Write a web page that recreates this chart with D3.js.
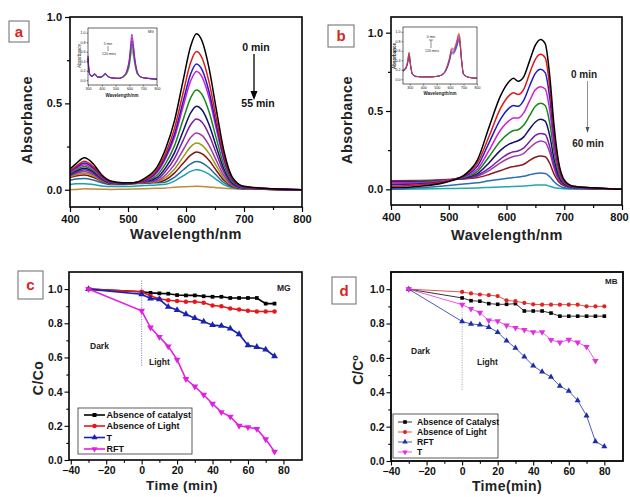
<!DOCTYPE html>
<html><head><meta charset="utf-8">
<script src="https://cdn.jsdelivr.net/npm/d3@7"></script>
<style>
html,body{margin:0;padding:0;background:#fff;}
svg{display:block;font-family:Arial,"Liberation Sans",sans-serif;}
</style></head><body>
<svg id="fig" width="630" height="497"></svg>
<script>
// ---------- Panel a: malachite green spectra, 0 to 55 min ----------
const wavelengthA = [400,410,425,440,455,470,490,510,530,550,565,580,595,608,618,628,640,652,665,680,700,750,800];
const absorbanceA = [
  [.12,.15,.185,.15,.085,.05,.04,.04,.068,.131,.239,.397,.632,.831,.903,.858,.70,.47,.23,.072,.02,.005,0],
  [.11,.135,.165,.135,.08,.048,.04,.04,.06,.116,.212,.352,.56,.736,.80,.76,.62,.416,.204,.064,.018,.005,0],
  [.105,.128,.155,.128,.076,.046,.038,.04,.055,.106,.193,.32,.51,.67,.728,.692,.564,.379,.186,.058,.016,.004,0],
  [.10,.122,.145,.12,.072,.044,.037,.04,.052,.099,.182,.301,.48,.63,.685,.651,.531,.356,.175,.055,.015,.004,0],
  [.095,.115,.135,.112,.068,.042,.036,.04,.05,.084,.153,.254,.405,.532,.578,.549,.448,.30,.147,.046,.013,.003,0],
  [.09,.108,.125,.104,.064,.04,.035,.04,.048,.07,.128,.213,.339,.445,.484,.46,.375,.252,.123,.039,.011,.003,0],
  [.085,.10,.115,.096,.06,.038,.034,.04,.046,.06,.108,.18,.286,.376,.409,.389,.317,.213,.104,.033,.01,.003,0],
  [.08,.094,.105,.088,.056,.036,.033,.04,.044,.052,.087,.145,.23,.303,.329,.313,.255,.171,.084,.027,.008,.002,0],
  [.075,.087,.095,.08,.052,.034,.032,.038,.042,.048,.072,.119,.189,.248,.27,.257,.209,.14,.069,.024,.007,.002,0],
  [.07,.08,.085,.072,.048,.032,.031,.036,.04,.044,.058,.096,.153,.20,.218,.207,.169,.113,.056,.02,.006,.002,0],
  [.055,.062,.065,.056,.04,.03,.03,.034,.038,.04,.045,.072,.114,.15,.163,.155,.126,.085,.042,.016,.005,.002,0],
  [.03,.034,.035,.03,.022,.018,.018,.02,.024,.028,.032,.05,.08,.106,.115,.109,.089,.06,.03,.012,.004,.002,0],
  [0,.002,.005,.004,.003,.002,.003,.004,.006,.008,.01,.014,.017,.019,.02,.019,.016,.012,.008,.005,.003,.002,0]
];
const colorsA = ["#000000","#e01818","#1c1cc8","#d21ed2","#138a13","#10106e","#7a1ea8","#a03ca8","#9a9a10","#8a1010","#1f6f9a","#1ea0a8","#c08a3c"];

// inset of panel a: full-range MG spectra
const wavelengthInsetA = [300,305,315,330,345,355,370,390,410,425,440,470,520,560,585,600,610,617,625,640,660,690,730,800];
const absorbanceInsetA = [
  [.52,.30,.12,.09,.14,.13,.07,.07,.10,.15,.10,.05,.04,.10,.25,.48,.78,.97,.86,.46,.16,.06,.04,.02],
  [.50,.28,.12,.09,.13,.12,.07,.07,.10,.14,.10,.05,.04,.09,.23,.44,.72,.90,.80,.43,.15,.06,.04,.02],
  [.48,.27,.11,.08,.13,.12,.07,.07,.09,.14,.09,.05,.04,.09,.21,.40,.66,.83,.74,.40,.14,.06,.04,.02],
  [.46,.26,.11,.08,.12,.11,.06,.06,.09,.13,.09,.05,.04,.08,.19,.37,.60,.76,.68,.37,.13,.06,.04,.02],
  [.45,.25,.10,.08,.12,.11,.06,.06,.09,.13,.09,.05,.04,.08,.17,.33,.55,.69,.62,.34,.12,.06,.04,.03],
  [.44,.24,.10,.08,.11,.10,.06,.06,.08,.12,.08,.05,.04,.07,.16,.30,.50,.63,.56,.31,.11,.06,.05,.03]
];
const colorsInsetA = ["#8a1a9a","#d21ed2","#1c1cc8","#138a13","#9a9a10","#2a9aa8"];

// ---------- Panel b: methylene blue spectra, 0 to 60 min ----------
const wavelengthB = [400,450,500,530,550,570,590,605,612,620,630,640,650,659,667,675,682,690,700,715,750,800];
const absorbanceB = [
  [.01,.02,.05,.10,.19,.40,.60,.69,.709,.69,.72,.82,.92,.957,.93,.72,.42,.18,.06,.02,.01,0],
  [.02,.03,.055,.095,.17,.34,.52,.60,.617,.605,.64,.74,.83,.862,.84,.65,.38,.16,.055,.02,.01,0],
  [.03,.035,.055,.09,.15,.30,.45,.52,.535,.53,.57,.66,.74,.766,.745,.58,.34,.15,.05,.018,.008,0],
  [.04,.04,.06,.085,.13,.25,.38,.44,.455,.455,.49,.565,.635,.655,.64,.50,.29,.13,.045,.016,.007,0],
  [.04,.045,.06,.08,.115,.21,.31,.36,.375,.38,.41,.47,.53,.549,.535,.42,.25,.11,.04,.015,.006,0],
  [.045,.048,.06,.075,.10,.17,.25,.29,.30,.31,.335,.385,.43,.447,.435,.34,.20,.09,.035,.013,.005,0],
  [.048,.05,.06,.07,.09,.135,.195,.23,.24,.245,.265,.305,.345,.357,.35,.27,.16,.075,.03,.012,.005,0],
  [.05,.052,.062,.07,.085,.12,.17,.20,.21,.215,.23,.265,.295,.309,.30,.235,.14,.065,.028,.01,.004,0],
  [.055,.056,.062,.068,.075,.095,.12,.14,.145,.15,.16,.185,.205,.213,.208,.165,.10,.05,.022,.01,.004,0],
  [0,.01,.025,.035,.042,.055,.065,.072,.075,.078,.083,.093,.101,.104,.101,.08,.05,.025,.01,.005,.002,0],
  [0,.002,.005,.007,.009,.012,.015,.017,.018,.019,.021,.024,.027,.028,.027,.02,.012,.007,.004,.002,.001,0]
];
const colorsB = ["#000000","#e01818","#1c1cc8","#d21ed2","#138a13","#10106e","#7a1ea8","#a03ca8","#8a1a1a","#2a6eb0","#22a8a8"];

// inset of panel b: full-range MB spectra
const wavelengthInsetB = [250,270,285,295,305,320,350,400,450,500,540,570,595,612,625,640,655,664,672,685,700,740,800];
const absorbanceInsetB = [
  [.20,.25,.40,.57,.35,.12,.06,.05,.05,.06,.10,.22,.45,.66,.64,.72,.88,.97,.90,.45,.12,.04,.02],
  [.19,.24,.38,.55,.33,.11,.06,.05,.05,.06,.10,.21,.43,.63,.61,.69,.84,.93,.86,.43,.11,.04,.02],
  [.18,.23,.36,.53,.32,.11,.06,.05,.05,.06,.09,.20,.41,.60,.58,.66,.80,.89,.82,.41,.11,.04,.02],
  [.18,.22,.35,.51,.31,.10,.06,.05,.05,.06,.09,.19,.39,.57,.56,.63,.76,.85,.79,.40,.10,.04,.02],
  [.17,.22,.34,.49,.30,.10,.05,.05,.05,.06,.09,.18,.37,.54,.53,.60,.73,.81,.75,.38,.10,.04,.02]
];
const colorsInsetB = ["#c05a20","#8a1a9a","#d21ed2","#1c1cc8","#2a6eb0"];

// ---------- Panel c: MG degradation ----------
const timeC = [-30,0,5,10,15,20,25,30,35,40,45,50,55,60,65,70,75];
const mgNoCatalyst = [1.0,0.984,0.978,0.975,0.973,0.965,0.963,0.963,0.958,0.955,0.955,0.948,0.948,0.948,0.948,0.915,0.915];
const mgNoLight = [1.0,0.984,0.96,0.943,0.935,0.93,0.926,0.926,0.92,0.904,0.90,0.886,0.88,0.873,0.869,0.869,0.869];
const mgT = [1.0,0.97,0.945,0.94,0.896,0.877,0.853,0.83,0.81,0.789,0.785,0.769,0.736,0.671,0.661,0.646,0.607];
const mgRFT = [1.0,0.873,0.775,0.72,0.665,0.587,0.474,0.43,0.382,0.329,0.28,0.254,0.20,0.192,0.182,0.121,0.049];
const legendC = ["Absence of catalyst","Absence of Light","T","RFT"];

// ---------- Panel d: MB degradation ----------
const timeD = [-30,0,5,10,15,20,25,30,35,40,45,50,55,60,65,70,75,80];
const mbNoCatalyst = [1.0,0.949,0.933,0.93,0.916,0.912,0.912,0.916,0.873,0.873,0.873,0.861,0.843,0.843,0.843,0.843,0.843,0.843];
const mbNoLight = [1.0,0.984,0.975,0.969,0.965,0.96,0.935,0.93,0.92,0.912,0.91,0.91,0.91,0.91,0.91,0.9,0.9,0.9];
const mbRFT = [1.0,0.812,0.798,0.793,0.779,0.75,0.70,0.658,0.607,0.554,0.519,0.489,0.436,0.407,0.352,0.264,0.114,0.084];
const mbT = [1.0,0.91,0.886,0.863,0.818,0.814,0.789,0.775,0.763,0.75,0.75,0.705,0.69,0.706,0.69,0.665,0.583];
const legendD = ["Absence of Catalyst","Absence of Light","RFT","T"];

const svg = d3.select("#fig");
const fmt1 = d3.format(".1f");

function axes(g, x, y, o) {
  const b = y.range()[0], t = y.range()[1], l = x.range()[0], r = x.range()[1];
  const ax = g.append("g").attr("transform", `translate(0,${b})`)
    .call(d3.axisBottom(x).tickValues(o.xMajor).tickSize(o.tick).tickPadding(o.pad).tickFormat(o.xFmt || d3.format("d")));
  g.append("g").attr("transform", `translate(0,${b})`)
    .call(d3.axisBottom(x).tickValues(o.xMinor).tickSize(o.tick * 0.6).tickFormat(""));
  const ay = g.append("g").attr("transform", `translate(${l},0)`)
    .call(d3.axisLeft(y).tickValues(o.yMajor).tickSize(o.tick).tickPadding(o.pad).tickFormat(fmt1));
  g.append("g").attr("transform", `translate(${l},0)`)
    .call(d3.axisLeft(y).tickValues(o.yMinor).tickSize(o.tick * 0.6).tickFormat(""));
  g.selectAll(".domain").remove();
  g.selectAll(".tick line").attr("stroke", "#000").attr("stroke-width", o.tickW);
  [ax, ay].forEach(a => a.selectAll("text").attr("font-size", o.fs).attr("font-weight", o.fw)
    .attr("fill", "#111").attr("font-family", "Arial, 'Liberation Sans', sans-serif"));
  // keep the last x label inside the page edge
  if (o.lastShift) ax.selectAll(".tick:last-of-type text").attr("dx", -o.lastShift);
  g.append("rect").attr("x", l).attr("y", t).attr("width", r - l).attr("height", b - t)
    .attr("fill", "none").attr("stroke", "#000").attr("stroke-width", o.frameW);
}

function tag(x, y, w, h, letter) {
  svg.append("rect").attr("x", x).attr("y", y).attr("width", w).attr("height", h)
    .attr("fill", "#fff").attr("stroke", "#6a6a6a").attr("stroke-width", 1);
  svg.append("text").attr("x", x + w / 2).attr("y", y + h / 2 + 5).attr("text-anchor", "middle")
    .attr("font-size", 15).attr("font-weight", "bold").attr("fill", "#d8261e").text(letter);
}

function title(x, y, txt, fs, rot) {
  svg.append("text").attr("transform", `translate(${x},${y})` + (rot ? " rotate(-90)" : ""))
    .attr("text-anchor", "middle").attr("font-size", fs).attr("font-weight", "bold")
    .attr("fill", "#222").attr("letter-spacing", 0.4).text(txt);
}

function spectra(g, x, y, wl, rows, colors, w) {
  const line = d3.line().x((d, i) => x(wl[i])).y(d => y(d)).curve(d3.curveMonotoneX);
  const order = rows.map((r, i) => i).reverse();
  g.selectAll(null).data(order).join("path")
    .attr("d", i => line(rows[i])).attr("fill", "none")
    .attr("stroke", i => colors[i]).attr("stroke-width", w);
}

// ===== Panel a =====
{
  const x = d3.scaleLinear().domain([400, 800]).range([70, 302]);
  const y = d3.scaleLinear().domain([-0.1, 1.0]).range([207, 17]);
  const g = svg.append("g");
  g.append("clipPath").attr("id", "clipA").append("rect")
    .attr("x", 70).attr("y", 17).attr("width", 232).attr("height", 190);
  spectra(g.append("g").attr("clip-path", "url(#clipA)"), x, y, wavelengthA, absorbanceA, colorsA, 1.5);
  axes(g, x, y, {xMajor: [400,500,600,700,800], xMinor: [450,550,650,750], yMajor: [0,0.5,1.0], yMinor: [0.25,0.75],
    tick: 5, pad: 3, fs: 11, fw: "bold", tickW: 1.2, frameW: 1.6});
  // time arrow
  svg.append("text").attr("x", 256).attr("y", 51).attr("text-anchor", "middle").attr("font-size", 10.5)
    .attr("font-weight", "bold").attr("fill", "#111").text("0 min");
  svg.append("line").attr("x1", 254).attr("x2", 254).attr("y1", 54).attr("y2", 93).attr("stroke", "#000").attr("stroke-width", 1.3);
  svg.append("path").attr("d", "M250.5,91 L257.5,91 L254,100 Z").attr("fill", "#000");
  svg.append("text").attr("x", 258).attr("y", 107).attr("text-anchor", "middle").attr("font-size", 10.5)
    .attr("font-weight", "bold").attr("fill", "#111").text("55 min");

  // inset
  const xi = d3.scaleLinear().domain([300, 800]).range([88, 157]);
  const yi = d3.scaleLinear().domain([-0.1, 1.1]).range([85, 28]);
  const gi = svg.append("g");
  gi.append("rect").attr("x", 88).attr("y", 28).attr("width", 69).attr("height", 57).attr("fill", "#fff");
  spectra(gi, xi, yi, wavelengthInsetA, absorbanceInsetA, colorsInsetA, 0.8);
  axes(gi, xi, yi, {xMajor: [300,400,500,600,700,800], xMinor: [], yMajor: [0,0.2,0.4,0.6,0.8,1.0], yMinor: [],
    tick: 1.5, pad: 1, fs: 3.6, fw: "normal", tickW: 0.5, frameW: 0.6});
  gi.append("text").attr("transform", "translate(81,56) rotate(-90)").attr("text-anchor", "middle")
    .attr("font-size", 4.5).attr("font-style", "italic").attr("fill", "#222").text("Absorbance");
  gi.append("text").attr("x", 122).attr("y", 97).attr("text-anchor", "middle").attr("font-size", 4.5)
    .attr("font-weight", "bold").attr("fill", "#222").text("Wavelength/nm");
  gi.append("text").attr("x", 108).attr("y", 45).attr("text-anchor", "middle").attr("font-size", 3.4).attr("fill", "#222").text("5 min");
  gi.append("line").attr("x1", 108).attr("x2", 108).attr("y1", 46).attr("y2", 51).attr("stroke", "#222").attr("stroke-width", 0.5);
  gi.append("text").attr("x", 109).attr("y", 55).attr("text-anchor", "middle").attr("font-size", 3.4).attr("fill", "#222").text("120 mins");
  gi.append("text").attr("x", 151).attr("y", 33).attr("text-anchor", "middle").attr("font-size", 3.6).attr("fill", "#222").text("MG");

  title(32, 120, "Absorbance", 14.5, true);
  title(186, 239, "Wavelength/nm", 14.5, false);
  tag(9, 21, 20, 21, "a");
}

// ===== Panel b =====
{
  const x = d3.scaleLinear().domain([400, 800]).range([391, 622]);
  const y = d3.scaleLinear().domain([-0.1, 1.1]).range([205, 17]);
  const g = svg.append("g");
  g.append("clipPath").attr("id", "clipB").append("rect")
    .attr("x", 391).attr("y", 17).attr("width", 231).attr("height", 188);
  spectra(g.append("g").attr("clip-path", "url(#clipB)"), x, y, wavelengthB, absorbanceB, colorsB, 1.5);
  axes(g, x, y, {xMajor: [400,500,600,700,800], xMinor: [450,550,650,750], yMajor: [0,0.5,1.0], yMinor: [0.25,0.75],
    tick: 5, pad: 3, fs: 11, fw: "bold", tickW: 1.2, frameW: 1.6, lastShift: 3});
  svg.append("text").attr("x", 584).attr("y", 78).attr("text-anchor", "middle").attr("font-size", 10)
    .attr("font-weight", "bold").attr("fill", "#222").text("0 min");
  svg.append("line").attr("x1", 587.5).attr("x2", 587.5).attr("y1", 81).attr("y2", 129).attr("stroke", "#777").attr("stroke-width", 0.8);
  svg.append("path").attr("d", "M585.5,127 L589.5,127 L587.5,133 Z").attr("fill", "#555");
  svg.append("text").attr("x", 588).attr("y", 147).attr("text-anchor", "middle").attr("font-size", 10)
    .attr("font-weight", "bold").attr("fill", "#222").text("60 min");

  // inset
  const xi = d3.scaleLinear().domain([250, 800]).range([403, 477]);
  const yi = d3.scaleLinear().domain([-0.1, 1.1]).range([84, 27]);
  const gi = svg.append("g");
  gi.append("rect").attr("x", 403).attr("y", 27).attr("width", 74).attr("height", 57).attr("fill", "#fff");
  spectra(gi, xi, yi, wavelengthInsetB, absorbanceInsetB, colorsInsetB, 0.8);
  axes(gi, xi, yi, {xMajor: [300,400,500,600,700,800], xMinor: [], yMajor: [0,0.2,0.4,0.6,0.8,1.0], yMinor: [],
    tick: 1.5, pad: 1, fs: 3.6, fw: "normal", tickW: 0.5, frameW: 0.6});
  gi.append("text").attr("transform", "translate(396,56) rotate(-90)").attr("text-anchor", "middle")
    .attr("font-size", 4.5).attr("font-weight", "bold").attr("fill", "#222").text("Absorbance");
  gi.append("text").attr("x", 440).attr("y", 95).attr("text-anchor", "middle").attr("font-size", 4.5)
    .attr("font-weight", "bold").attr("fill", "#222").text("Wavelength/nm");
  gi.append("text").attr("x", 431).attr("y", 38).attr("text-anchor", "middle").attr("font-size", 3.4).attr("fill", "#222").text("0 min");
  gi.append("line").attr("x1", 431).attr("x2", 431).attr("y1", 40).attr("y2", 48).attr("stroke", "#222").attr("stroke-width", 0.5);
  gi.append("line").attr("x1", 429).attr("x2", 433).attr("y1", 40).attr("y2", 40).attr("stroke", "#222").attr("stroke-width", 0.5);
  gi.append("text").attr("x", 432).attr("y", 52).attr("text-anchor", "middle").attr("font-size", 3.4).attr("fill", "#222").text("120 mins");

  title(352, 120, "Absorbance", 14.5, true);
  title(507, 240, "Wavelength/nm", 14.5, false);
  tag(328, 25, 26, 22, "b");
}

// marker shapes
const shapes = {
  square: d3.symbol().type(d3.symbolSquare),
  circle: d3.symbol().type(d3.symbolCircle),
  up: d3.symbol().type(d3.symbolTriangle),
  down: d3.symbol().type(d3.symbolTriangle)
};

function series(g, x, y, xs, ys, color, shape, size, lw) {
  const line = d3.line().x((d, i) => x(xs[i])).y(d => y(d));
  g.append("path").attr("d", line(ys)).attr("fill", "none").attr("stroke", color).attr("stroke-width", lw);
  g.selectAll(null).data(ys).join("path")
    .attr("d", shapes[shape].size(size)())
    .attr("transform", (d, i) => `translate(${x(xs[i])},${y(d)})` + (shape === "down" ? " rotate(180)" : ""))
    .attr("fill", color);
}

function legend(g, x0, y0, w, h, names, colors, shapesL, rows, fs, fw, lx1, lx2, tx, size, lw) {
  g.append("rect").attr("x", x0).attr("y", y0).attr("width", w).attr("height", h)
    .attr("fill", "#fff").attr("stroke", "#333").attr("stroke-width", 0.8);
  names.forEach((n, i) => {
    const yy = rows[i];
    g.append("line").attr("x1", lx1).attr("x2", lx2).attr("y1", yy).attr("y2", yy)
      .attr("stroke", colors[i]).attr("stroke-width", lw);
    g.append("path").attr("d", shapes[shapesL[i]].size(size)())
      .attr("transform", `translate(${(lx1 + lx2) / 2},${yy})` + (shapesL[i] === "down" ? " rotate(180)" : ""))
      .attr("fill", colors[i]);
    g.append("text").attr("x", tx).attr("y", yy + fs * 0.36).attr("font-size", fs).attr("font-weight", fw)
      .attr("fill", "#111").text(n);
  });
}

// ===== Panel c =====
{
  const x = d3.scaleLinear().domain([-41, 90.5]).range([69, 302]);
  const y = d3.scaleLinear().domain([0, 1.1]).range([460, 272]);
  const g = svg.append("g");
  g.append("line").attr("x1", x(0)).attr("x2", x(0)).attr("y1", y(1.05)).attr("y2", y(0.55))
    .attr("stroke", "#6a7ab8").attr("stroke-width", 0.8).attr("stroke-dasharray", "1.2,1.2");
  const cols = ["#000000", "#e8161c", "#1a22b0", "#e020e0"];
  series(g, x, y, timeC, mgNoCatalyst, cols[0], "square", 14, 1.6);
  series(g, x, y, timeC, mgNoLight, cols[1], "circle", 16, 1.6);
  series(g, x, y, timeC, mgT, cols[2], "up", 20, 1.6);
  series(g, x, y, timeC, mgRFT, cols[3], "down", 20, 1.6);
  axes(g, x, y, {xMajor: [-40,-20,0,20,40,60,80], xMinor: [-30,-10,10,30,50,70], yMajor: [0,0.2,0.4,0.6,0.8,1.0],
    yMinor: [0.1,0.3,0.5,0.7,0.9], tick: 4.5, pad: 2, fs: 10.5, fw: "bold", tickW: 1.1, frameW: 1.6});
  g.append("text").attr("x", 90).attr("y", 349).attr("font-size", 8.5).attr("font-weight", 600).attr("fill", "#222").text("Dark");
  g.append("text").attr("x", 149).attr("y", 365).attr("font-size", 8.5).attr("font-weight", 600).attr("fill", "#222").text("Light");
  g.append("text").attr("x", 277).attr("y", 291).attr("font-size", 8.5).attr("font-weight", 600).attr("fill", "#222").text("MG");
  legend(g, 78, 408, 114, 46, legendC, cols, ["square", "circle", "up", "down"], [415, 426, 437.5, 449],
    9, "bold", 84, 105, 106.5, 16, 1.6);
  title(43, 378, "C/Co", 14, true);
  title(182, 490, "Time (min)", 13.5, false);
  tag(18, 271, 25, 28, "c");
}

// ===== Panel d =====
{
  const x = d3.scaleLinear().domain([-40, 90.5]).range([391, 623]);
  const y = d3.scaleLinear().domain([0, 1.1]).range([461, 272]);
  const g = svg.append("g");
  g.append("line").attr("x1", x(0)).attr("x2", x(0)).attr("y1", y(0.91)).attr("y2", y(0.41))
    .attr("stroke", "#999").attr("stroke-width", 0.8).attr("stroke-dasharray", "1.2,1.2");
  const cols = ["#000000", "#e02424", "#1f2ea8", "#e030e0"];
  series(g, x, y, timeD, mbNoCatalyst, cols[0], "square", 13, 0.8);
  series(g, x, y, timeD, mbNoLight, cols[1], "circle", 14, 0.8);
  series(g, x, y, timeD, mbRFT, cols[2], "up", 16, 0.8);
  series(g, x, y, timeD.slice(0, mbT.length), mbT, cols[3], "down", 18, 0.8);
  axes(g, x, y, {xMajor: [-40,-20,0,20,40,60,80], xMinor: [-30,-10,10,30,50,70], yMajor: [0,0.2,0.4,0.6,0.8,1.0],
    yMinor: [0.1,0.3,0.5,0.7,0.9], tick: 4.5, pad: 2, fs: 10.5, fw: "bold", tickW: 1.1, frameW: 1.8});
  g.append("text").attr("x", 411).attr("y", 354).attr("font-size", 8.5).attr("font-weight", 600).attr("fill", "#222").text("Dark");
  g.append("text").attr("x", 477).attr("y", 365).attr("font-size", 8.5).attr("font-weight", 600).attr("fill", "#222").text("Light");
  g.append("text").attr("x", 605).attr("y", 284).attr("font-size", 8).attr("font-weight", 600).attr("fill", "#222").text("MB");
  legend(g, 393, 414, 105, 44, legendD, cols, ["square", "circle", "up", "down"], [422, 432, 442, 452],
    8.6, 600, 398, 412, 417, 13, 0.8);
  svg.append("text").attr("transform", "translate(363,370) rotate(-90)").attr("text-anchor", "middle")
    .attr("font-size", 14).attr("font-weight", "bold").attr("fill", "#222")
    .html('C/C<tspan dy="-5" font-size="9">o</tspan>');
  title(507, 491, "Time(min)", 14, false);
  tag(332, 277, 24, 27, "d");
}
</script>
</body></html>
